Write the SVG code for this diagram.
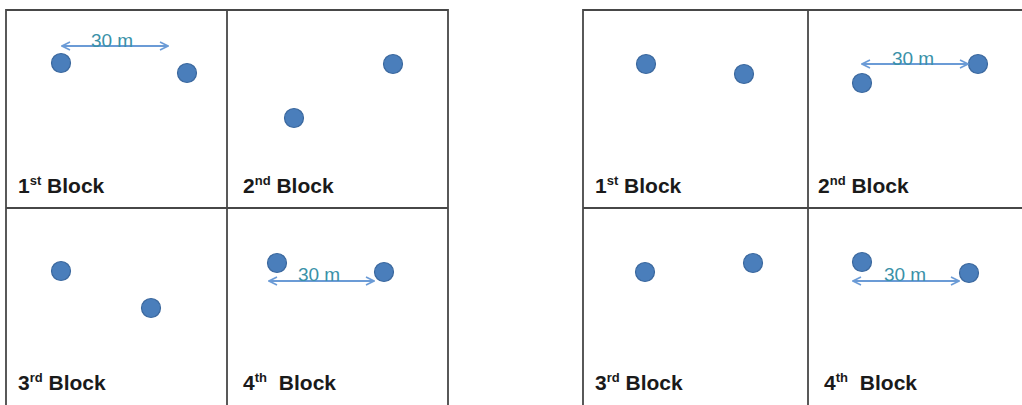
<svg xmlns="http://www.w3.org/2000/svg" width="1022" height="405" viewBox="0 0 1022 405">
  <style>
    .grid { fill: none; stroke: #474747; stroke-width: 1.8; }
    .dot { fill: #4a7ebb; stroke: #3b689e; stroke-width: 1.2; }
    .lbl { font-family: "Liberation Sans", Arial, sans-serif; font-weight: bold; font-size: 21px; fill: #1a1a1a; }
    .sup { font-size: 13px; }
    .dist { font-family: "Liberation Sans", Arial, sans-serif; font-size: 19px; fill: #3a91a8; }
    .arr { stroke: #6b9bd6; stroke-width: 1.8; fill: none; marker-start: url(#head); marker-end: url(#head); }
  </style>
  <defs>
    <marker id="head" viewBox="0 0 10 10" refX="9" refY="5" markerWidth="10" markerHeight="10" markerUnits="userSpaceOnUse" orient="auto-start-reverse">
      <polyline points="1,1 9,5 1,9" fill="none" stroke="#6b9bd6" stroke-width="1.6"/>
    </marker>
  </defs>
  <rect width="1022" height="405" fill="#ffffff"/>

  <!-- left layout frame (runs off the bottom edge) -->
  <g id="grid-left" class="grid">
    <path d="M6,406 V10 H448 V406"/>
    <line x1="227" y1="10" x2="227" y2="406"/>
    <line x1="6" y1="208" x2="448" y2="208"/>
  </g>
  <!-- right layout frame (runs off the right and bottom edges) -->
  <g id="grid-right" class="grid">
    <path d="M583,406 V10 H1023"/>
    <line x1="808" y1="10" x2="808" y2="406"/>
    <line x1="583" y1="208" x2="1023" y2="208"/>
  </g>

  <!-- left layout blocks -->
  <g id="L-block1">
    <circle class="dot" cx="61" cy="63" r="9.5"/>
    <circle class="dot" cx="187" cy="73" r="9.5"/>
    <text class="lbl" x="18" y="193">1<tspan class="sup" dy="-8">st</tspan><tspan dy="8"> Block</tspan></text>
  </g>
  <g id="L-block2">
    <circle class="dot" cx="294" cy="118" r="9.5"/>
    <circle class="dot" cx="393" cy="64" r="9.5"/>
    <text class="lbl" x="243" y="193">2<tspan class="sup" dy="-8">nd</tspan><tspan dy="8"> Block</tspan></text>
  </g>
  <g id="L-block3">
    <circle class="dot" cx="61" cy="271" r="9.5"/>
    <circle class="dot" cx="151" cy="308" r="9.5"/>
    <text class="lbl" x="18" y="390">3<tspan class="sup" dy="-8">rd</tspan><tspan dy="8"> Block</tspan></text>
  </g>
  <g id="L-block4">
    <circle class="dot" cx="277" cy="263" r="9.5"/>
    <circle class="dot" cx="384" cy="272" r="9.5"/>
    <text class="lbl" x="243" y="390">4<tspan class="sup" dy="-8">th</tspan><tspan dy="8" dx="6"> Block</tspan></text>
  </g>

  <!-- right layout blocks -->
  <g id="R-block1">
    <circle class="dot" cx="646" cy="64" r="9.5"/>
    <circle class="dot" cx="744" cy="74" r="9.5"/>
    <text class="lbl" x="595" y="193">1<tspan class="sup" dy="-8">st</tspan><tspan dy="8"> Block</tspan></text>
  </g>
  <g id="R-block2">
    <circle class="dot" cx="862" cy="83" r="9.5"/>
    <circle class="dot" cx="978" cy="64" r="9.5"/>
    <text class="lbl" x="818" y="193">2<tspan class="sup" dy="-8">nd</tspan><tspan dy="8"> Block</tspan></text>
  </g>
  <g id="R-block3">
    <circle class="dot" cx="645" cy="272" r="9.5"/>
    <circle class="dot" cx="753" cy="263" r="9.5"/>
    <text class="lbl" x="595" y="390">3<tspan class="sup" dy="-8">rd</tspan><tspan dy="8"> Block</tspan></text>
  </g>
  <g id="R-block4">
    <circle class="dot" cx="862" cy="262" r="9.5"/>
    <circle class="dot" cx="969" cy="273" r="9.5"/>
    <text class="lbl" x="824" y="390">4<tspan class="sup" dy="-8">th</tspan><tspan dy="8" dx="6"> Block</tspan></text>
  </g>

  <!-- 30 m spacing indicators -->
  <g id="connectors">
    <line class="arr" x1="62" y1="46" x2="168" y2="46"/>
    <text class="dist" x="112" y="47" text-anchor="middle">30 m</text>
    <line class="arr" x1="269" y1="281" x2="374" y2="281"/>
    <text class="dist" x="319" y="281" text-anchor="middle">30 m</text>
    <line class="arr" x1="862" y1="64" x2="968" y2="64"/>
    <text class="dist" x="913" y="65" text-anchor="middle">30 m</text>
    <line class="arr" x1="853" y1="281" x2="959" y2="281"/>
    <text class="dist" x="905" y="281" text-anchor="middle">30 m</text>
  </g>
</svg>
